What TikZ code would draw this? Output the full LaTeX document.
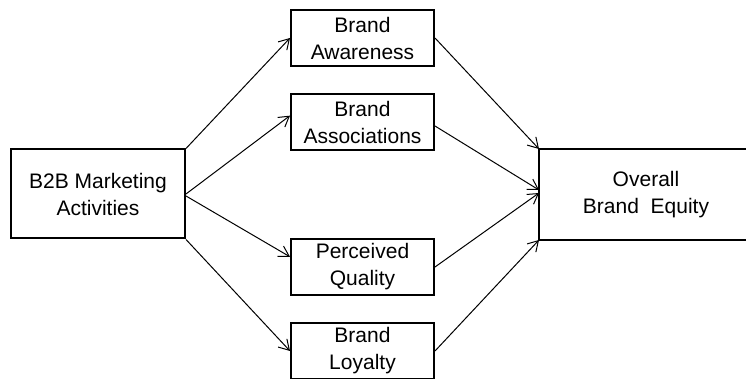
\documentclass[tikz,border=0pt]{standalone}
\usepackage{fontspec}
\setmainfont{Liberation Sans}
\usetikzlibrary{arrows.meta}
\tikzset{
  factor/.style={draw, line width=1pt, align=center, inner sep=0pt,
    minimum width=71.5pt, minimum height=28pt,
    font=\fontsize{10.5}{13.5}\selectfont},
  bigbox/.style={factor, minimum height=44.5pt},
  link/.style={line width=0.5pt, -{Straight Barb[length=5pt,width=6pt]}}
}
\begin{document}
\begin{tikzpicture}[x=0.5pt, y=-0.5pt]
\clip (0,0) rectangle (746,379);
\node [bigbox, minimum width=87pt] (b2b) at (98,194) {B2B Marketing\\Activities};
\node [factor] (aware) at (362.5,38) {Brand\\Awareness};
\node [factor] (assoc) at (362.5,122) {Brand\\Associations};
\node [factor] (quality) at (362.5,267) {Perceived\\Quality};
\node [factor] (loyalty) at (362.5,351) {Brand\\Loyalty};
\node [bigbox, draw=none, minimum width=106pt] (equity) at (646,194.5) {Overall\\Brand~ Equity};
% the right box runs off the page
\draw [line width=1pt] (equity.north west) rectangle ([xshift=30pt]equity.south east);
% antecedents
\draw [link] (b2b.north east) -- (aware.west);
\draw [link] (b2b.east) -- (assoc.175);
\draw [link] ([yshift=-1pt]b2b.east) -- (quality.172);
\draw [link] (b2b.south east) -- (loyalty.west);
% outcome
\draw [link] (aware.east) -- (equity.north west);
\draw [link] ([yshift=-2pt]assoc.east) -- ([yshift=2.25pt]equity.west);
\draw [link] (quality.east) -- ([yshift=0.75pt]equity.west);
\draw [link] (loyalty.east) -- (equity.south west);
\end{tikzpicture}
\end{document}
